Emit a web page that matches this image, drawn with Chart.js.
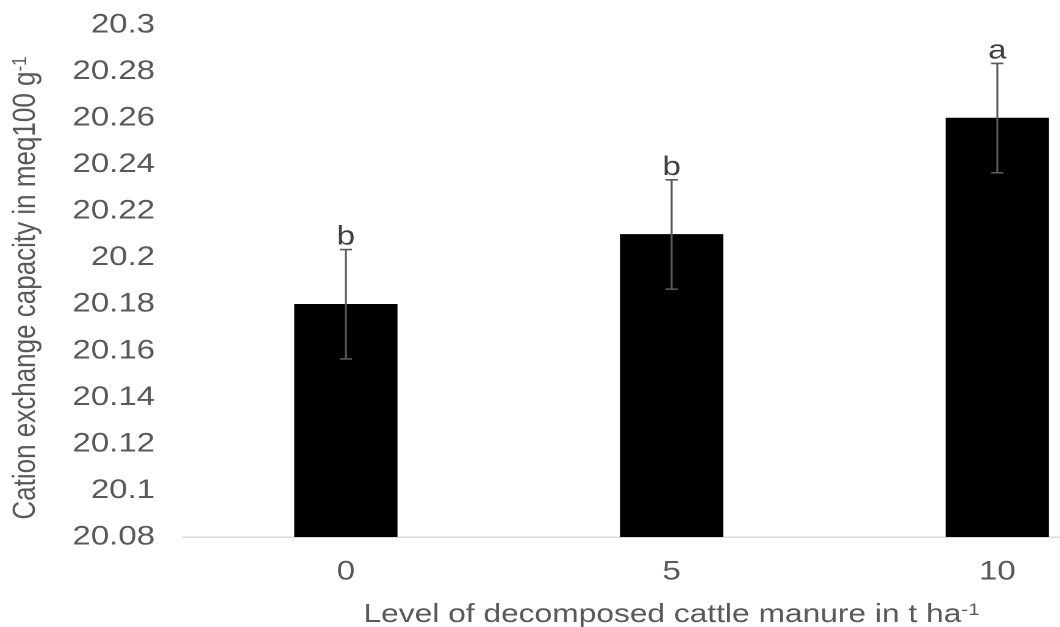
<!DOCTYPE html>
<html>
<head>
<meta charset="utf-8">
<script src="https://cdn.jsdelivr.net/npm/chart.js@4"></script>
<style>
html, body { margin: 0; padding: 0; background: #fff; overflow: hidden; width: 1060px; height: 627px; }
#wrap { width: 951px; height: 627px; transform: scaleX(1.22); transform-origin: 0 0; }
</style>
</head>
<body>
<div id="wrap"><canvas id="chart"></canvas></div>
<script>
"use strict";

var categories = ["0", "5", "10"];
var cecValues = [20.18, 20.21, 20.26];
var cecErrors = [0.0235, 0.0235, 0.0235];
var groupLetters = ["b", "b", "a"];
var yTicks = [20.08, 20.1, 20.12, 20.14, 20.16, 20.18, 20.2, 20.22, 20.24, 20.26, 20.28, 20.3];
var yTickLabels = ["20.08", "20.1", "20.12", "20.14", "20.16", "20.18", "20.2", "20.22", "20.24", "20.26", "20.28", "20.3"];
var xTitle = ["Level of decomposed cattle manure in t ha", "-1"];
var yTitle = ["Cation exchange capacity in meq100 g", "-1"];

var FONT = "'Liberation Sans', Arial, sans-serif";

// text with a raised "-1"
function supText(ctx, parts, cx, base) {
    ctx.font = "26px " + FONT;
    var w1 = ctx.measureText(parts[0]).width;
    ctx.font = "17px " + FONT;
    var w2 = ctx.measureText(parts[1]).width;
    var x = cx - (w1 + w2) / 2;
    ctx.font = "26px " + FONT;
    ctx.fillText(parts[0], x, base);
    ctx.font = "17px " + FONT;
    ctx.fillText(parts[1], x + w1, base - 7);
}

var errorBars = {
    id: "errorBars",
    afterDatasetsDraw: function(chart) {
        var ctx = chart.ctx, y = chart.scales.y, meta = chart.getDatasetMeta(0);
        ctx.save();
        meta.data.forEach(function(bar, i) {
            var top = y.getPixelForValue(cecValues[i] + cecErrors[i]), bot = y.getPixelForValue(cecValues[i] - cecErrors[i]);
            ctx.strokeStyle = "#595959";
            ctx.lineWidth = 1.6;
            ctx.beginPath();
            ctx.moveTo(bar.x, top); ctx.lineTo(bar.x, bot);
            ctx.moveTo(bar.x - 5, top); ctx.lineTo(bar.x + 5, top);
            ctx.moveTo(bar.x - 5, bot); ctx.lineTo(bar.x + 5, bot);
            ctx.stroke();
            ctx.fillStyle = "#404040";
            ctx.font = "27px " + FONT;
            ctx.textAlign = "center";
            ctx.textBaseline = "alphabetic";
            ctx.fillText(groupLetters[i], bar.x, top - 5);
        });
        ctx.restore();
    }
};

var axisTitles = {
    id: "axisTitles",
    afterDraw: function(chart) {
        var ctx = chart.ctx, a = chart.chartArea;
        ctx.save();
        ctx.fillStyle = "#595959";
        ctx.textAlign = "left";
        ctx.textBaseline = "alphabetic";
        supText(ctx, xTitle, (a.left + a.right) / 2, a.bottom + 85);
        ctx.translate(28.7, (a.top + a.bottom) / 2 + 7);
        ctx.rotate(-Math.PI / 2);
        supText(ctx, yTitle, 0, 0);
        ctx.restore();
    }
};

new Chart(document.getElementById("chart"), {
    type: "bar",
    data: {
        labels: categories,
        datasets: [ {
            data: cecValues,
            backgroundColor: "#000000",
            borderWidth: 0,
            barThickness: 84
        } ]
    },
    options: {
        responsive: true,
        maintainAspectRatio: false,
        animation: false,
        devicePixelRatio: 2,
        layout: { padding: { top: 25, right: 0, left: 0, bottom: 0 } },
        plugins: { legend: { display: false }, tooltip: { enabled: false } },
        scales: {
            x: {
                grid: { display: false, drawTicks: false },
                border: { display: true, color: "#d9d9d9", width: 1.5 },
                ticks: { color: "#595959", font: { family: FONT, size: 27 }, padding: 19, maxRotation: 0 },
                afterFit: function(s) { s.height = 90; }
            },
            y: {
                min: 20.08,
                max: 20.3,
                grid: { display: false, drawTicks: false },
                border: { display: false },
                afterBuildTicks: function(s) {
                    s.ticks = yTicks.map(function(v) { return { value: v }; });
                },
                ticks: {
                    color: "#595959",
                    font: { family: FONT, size: 27 },
                    padding: 23,
                    callback: function(v, i) { return yTickLabels[i]; }
                },
                afterFit: function(s) { s.width = 150; s.paddingTop = 0; s.paddingBottom = 0; }
            }
        }
    },
    plugins: [errorBars, axisTitles]
});
</script>
</body>
</html>
